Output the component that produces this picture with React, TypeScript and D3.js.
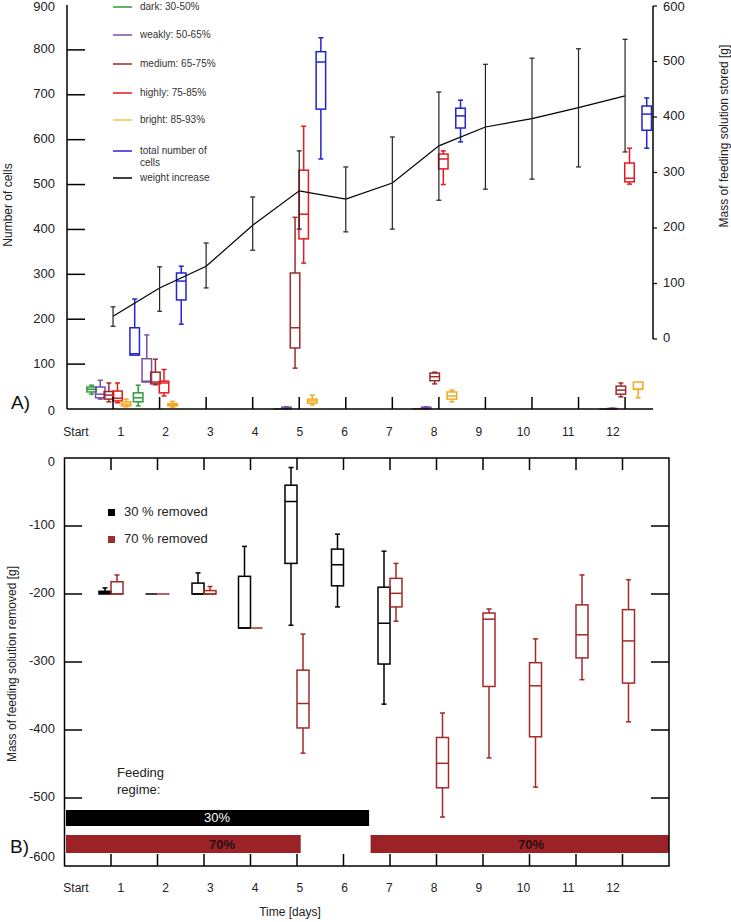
import React from "react";
import * as d3 from "d3";

// ---------- DATA ----------
// Panel A: cell counts per category, box stats [whiskerLow, q1, median, q3, whiskerHigh]
const cellDays = [1, 2, 5, 8, 12];
const darkCells = [[33, 38, 44, 49, 53], [7, 16, 25, 36, 53], [0, 0, 0, 0, 0], [0, 0, 0, 0, 0], [0, 0, 0, 0, 0]];
const weaklyCells = [[22, 25, 33, 49, 64], [60, 60, 62, 112, 165], [0, 1, 2, 4, 5], [0, 1, 2, 4, 5], [0, 0, 1, 1, 2]];
const mediumCells = [[16, 22, 31, 39, 58], [54, 56, 60, 82, 111], [91, 136, 181, 303, 427], [56, 63, 72, 80, 82], [27, 33, 42, 51, 58]];
const highlyCells = [[14, 18, 24, 40, 58], [29, 36, 58, 62, 88], [325, 379, 434, 532, 630], [500, 535, 557, 568, 575], [501, 506, 514, 548, 581]];
const brightCells = [[5, 7, 11, 16, 22], [4, 7, 10, 12, 17], [9, 13, 18, 22, 31], [16, 22, 29, 38, 42], [25, 44, 44, 60, 60]];
const totalCells = [[120, 120, 123, 181, 245], [189, 243, 285, 303, 318], [557, 668, 773, 796, 827], [595, 626, 653, 670, 688], [581, 621, 657, 675, 693]];

// Panel A: weight increase (mass of feeding solution stored, g)
const weightDays = [1, 2, 3, 4, 5, 6, 7, 8, 9, 10, 11, 12];
const weightMean = [41, 92, 131, 205, 267, 252, 281, 348, 382, 397, 417, 438];
const weightLow = [23, 50, 92, 160, 198, 193, 198, 250, 270, 288, 310, 337];
const weightHigh = [58, 130, 173, 256, 339, 310, 364, 445, 495, 506, 523, 540];

// Panel B: mass of feeding solution removed (g)
const removed30Days = [1, 2, 3, 4, 5, 6, 7];
const removed30 = [
  [-200, -200, -198, -196, -191],
  [-200, -200, -200, -200, -200],
  [-200, -200, -200, -184, -169],
  [-250, -250, -250, -174, -130],
  [-246, -155, -64, -40, -14],
  [-219, -188, -157, -134, -112],
  [-362, -303, -243, -190, -137],
];
const removed70Days = [1, 2, 3, 4, 5, 7, 8, 9, 10, 11, 12];
const removed70 = [
  [-200, -200, -200, -182, -172],
  [-200, -200, -200, -200, -200],
  [-200, -200, -200, -195, -189],
  [-250, -250, -250, -250, -250],
  [-434, -397, -361, -312, -259],
  [-240, -219, -199, -177, -155],
  [-528, -485, -449, -411, -375],
  [-441, -336, -237, -228, -222],
  [-484, -410, -335, -301, -266],
  [-326, -294, -260, -216, -172],
  [-388, -331, -269, -223, -179],
];

// Feeding regime periods (days)
const regime30 = [[0, 6.55]];
const regime70 = [[0, 5.08], [6.55, 13]];

// Axis ticks & labels
const dayTicks = [1, 2, 3, 4, 5, 6, 7, 8, 9, 10, 11, 12];
const dayLabels = ["Start", "1", "2", "3", "4", "5", "6", "7", "8", "9", "10", "11", "12"];
const cellTicks = [0, 100, 200, 300, 400, 500, 600, 700, 800, 900];
const storedTicks = [0, 100, 200, 300, 400, 500, 600];
const removedTicks = [0, -100, -200, -300, -400, -500, -600];

const legendLabels = ["dark: 30-50%", "weakly: 50-65%", "medium: 65-75%", "highly: 75-85%", "bright: 85-93%", "total number of|cells", "weight increase"];

// ---------- STYLE ----------
const FONT = "'Liberation Sans', Arial, sans-serif";
const catColors = ["#2e9a3a", "#7a4fa8", "#9e2a2b", "#e8191f", "#f4a81d", "#2323d1"];
const legendColors = ["#2e9a3a", "#7a4fa8", "#9e2a2b", "#e8191f", "#f6c342", "#2323d1", "#000"];
const catOffsets = [-0.46, -0.275, -0.09, 0.095, 0.28, 0.465];
const BROWN = "#a12a2a";
const BAR_BROWN = "#9b2226";

// ---------- SCALES ----------
const xTop = d3.scaleLinear().domain([0, 12.6]).range([66.5, 653]);
const yLeft = d3.scaleLinear().domain([0, 900]).range([409, 5]);
const yRight = d3.scaleLinear().domain([0, 600]).range([339, 6]);
const xLabel = d3.scalePoint<string>().domain(dayLabels).range([76, 613]);
const xBot = d3.scaleLinear().domain([0, 13]).range([64.5, 669]);
const yBot = d3.scaleLinear().domain([-600, 0]).range([866, 458]);

type Y = (v: number) => number;

function BoxPlot({ x0, x1, s, y, color, wx }: { x0: number; x1: number; s: number[]; y: Y; color: string; wx?: number }) {
  const cx = wx ?? (x0 + x1) / 2;
  const [lo, q1, med, q3, hi] = s;
  const tiny = Math.abs(y(q1) - y(q3)) < 3 && hi - lo > 0;
  return (
    <g stroke={color} strokeWidth={1.5} fill="none">
      {hi > q3 && <line x1={cx} x2={cx} y1={y(q3)} y2={y(hi)} />}
      {lo < q1 && <line x1={cx} x2={cx} y1={y(q1)} y2={y(lo)} />}
      {hi > q3 && <line x1={cx - 2.5} x2={cx + 2.5} y1={y(hi)} y2={y(hi)} />}
      {lo < q1 && <line x1={cx - 2.5} x2={cx + 2.5} y1={y(lo)} y2={y(lo)} />}
      <rect x={x0} width={x1 - x0} y={y(q3)} height={Math.max(0, y(q1) - y(q3))} fill={tiny ? color : "none"} />
      <line x1={x0} x2={x1} y1={y(med)} y2={y(med)} />
    </g>
  );
}

export default function App() {
  const cats = [darkCells, weaklyCells, mediumCells, highlyCells, brightCells, totalCells];
  const boxW = 9.5;
  const weightLine = d3.line<number>().x((d) => xTop(d)).y((_, i) => yRight(weightMean[i]));

  return (
    <svg width={731} height={922} style={{ position: "absolute", left: 0, top: 0, background: "#fff" }} fontFamily={FONT}>
      <rect width={731} height={922} fill="#fff" />
      {/* ================= PANEL A ================= */}
      {cats.map((arr, ci) =>
        arr.map((s, i) => {
          const cx = xTop(cellDays[i] + catOffsets[ci]);
          return <BoxPlot key={`c${ci}-${i}`} x0={cx - boxW / 2} x1={cx + boxW / 2} s={s} y={yLeft} color={catColors[ci]} />;
        })
      )}
      {/* axes A */}
      <line x1={67} x2={67} y1={5} y2={409} stroke="#000" strokeWidth={1.5} />
      <line x1={67} x2={653} y1={409} y2={409} stroke="#000" strokeWidth={1.5} />
      {cellTicks.map((t) => (
        <g key={`lt${t}`}>
          {t > 0 && t < 900 && <line x1={67} x2={85} y1={yLeft(t)} y2={yLeft(t)} stroke="#000" strokeWidth={1.5} />}
          <text x={55} y={Math.max(yLeft(t) + (t === 0 ? 3 : 0), 8)} textAnchor="end" dominantBaseline="middle" fontSize={13} fill="#222">
            {t}
          </text>
        </g>
      ))}
      {dayTicks.map((d) => (
        <line key={`xt${d}`} x1={xTop(d)} x2={xTop(d)} y1={409} y2={397} stroke="#000" strokeWidth={1.5} />
      ))}
      {dayLabels.map((l) => (
        <text key={`xl${l}`} x={xLabel(l)} y={433} textAnchor="middle" dominantBaseline="middle" fontSize={12} fill="#222">
          {l}
        </text>
      ))}
      {/* right axis */}
      <line x1={653} x2={653} y1={yRight(600)} y2={yRight(0)} stroke="#000" strokeWidth={1.5} />
      {storedTicks.map((t) => (
        <g key={`rt${t}`}>
          <line x1={653} x2={657} y1={yRight(t)} y2={yRight(t)} stroke="#000" strokeWidth={1.2} />
          <text x={663} y={Math.max(yRight(t), 8)} dominantBaseline="middle" fontSize={13} fill="#222">
            {t}
          </text>
        </g>
      ))}
      {/* weight line & error bars */}
      <path d={weightLine(weightDays) || ""} fill="none" stroke="#000" strokeWidth={1.2} />
      {weightDays.map((d, i) => (
        <g key={`eb${d}`} stroke="#222" strokeWidth={1.2}>
          <line x1={xTop(d)} x2={xTop(d)} y1={yRight(weightLow[i])} y2={yRight(weightHigh[i])} />
          <line x1={xTop(d) - 2.5} x2={xTop(d) + 2.5} y1={yRight(weightLow[i])} y2={yRight(weightLow[i])} />
          <line x1={xTop(d) - 2.5} x2={xTop(d) + 2.5} y1={yRight(weightHigh[i])} y2={yRight(weightHigh[i])} />
        </g>
      ))}
      {/* legend A */}
      {legendLabels.map((l, i) => {
        const ys = [7, 35, 64, 93, 120, 151, 178];
        const parts = l.split("|");
        return (
          <g key={`lg${i}`}>
            <line x1={113} x2={132} y1={ys[i]} y2={ys[i]} stroke={legendColors[i]} strokeWidth={1.5} />
            {parts.map((p, j) => (
              <text key={j} x={140} y={ys[i] + j * 12} dominantBaseline="middle" fontSize={10} fill="#333">
                {p}
              </text>
            ))}
          </g>
        );
      })}
      {/* titles A */}
      <text transform={`translate(9,205) rotate(-90)`} textAnchor="middle" dominantBaseline="middle" fontSize={12} fill="#222">
        Number of cells
      </text>
      <text transform={`translate(725,136) rotate(-90)`} textAnchor="middle" dominantBaseline="middle" fontSize={12} fill="#222">
        Mass of feeding solution stored [g]
      </text>
      <text x={11} y={404} dominantBaseline="middle" fontSize={19} fill="#111">
        A)
      </text>

      {/* ================= PANEL B ================= */}
      {regime30.map(([a, b], i) => (
        <rect key={`r30${i}`} x={xBot(a) + 1.5} y={810} width={xBot(b) - xBot(a) - 1.5} height={16} fill="#000" />
      ))}
      {regime70.map(([a, b], i) => (
        <rect key={`r70${i}`} x={xBot(a) + 1.5} y={835} width={xBot(b) - xBot(a) - 1.5} height={18} fill={BAR_BROWN} />
      ))}
      <text x={217} y={819} textAnchor="middle" dominantBaseline="middle" fontSize={13} fill="#fff">
        30%
      </text>
      {[222, 531].map((x, i) => (
        <text key={`t70${i}`} x={x} y={846} textAnchor="middle" dominantBaseline="middle" fontSize={13} fontWeight="bold" fill="#2a1010">
          70%
        </text>
      ))}
      <text x={117} y={774} dominantBaseline="middle" fontSize={13} fill="#222">
        Feeding
      </text>
      <text x={117} y={791} dominantBaseline="middle" fontSize={13} fill="#222">
        regime:
      </text>
      {removed30.map((s, i) => {
        const d = removed30Days[i];
        return <BoxPlot key={`b30${i}`} x0={xBot(d) - 12} x1={xBot(d)} s={s} y={yBot} color="#000" />;
      })}
      {removed70.map((s, i) => {
        const d = removed70Days[i];
        return <BoxPlot key={`b70${i}`} x0={xBot(d)} x1={xBot(d) + 12} s={s} y={yBot} color={BROWN} />;
      })}
      <rect x={64.5} y={458} width={669 - 64.5} height={866 - 458} fill="none" stroke="#000" strokeWidth={1.5} />
      {dayTicks.map((d) => (
        <g key={`bt${d}`} stroke="#000" strokeWidth={1.5}>
          <line x1={xBot(d)} x2={xBot(d)} y1={458} y2={470} />
          <line x1={xBot(d)} x2={xBot(d)} y1={866} y2={854} />
        </g>
      ))}
      {removedTicks.map((t) => (
        <g key={`by${t}`}>
          {t < 0 && t > -600 && (
            <>
              <line x1={64.5} x2={82} y1={yBot(t)} y2={yBot(t)} stroke="#000" strokeWidth={1.5} />
              <line x1={669} x2={651} y1={yBot(t)} y2={yBot(t)} stroke="#000" strokeWidth={1.5} />
            </>
          )}
          <text x={55} y={Math.min(Math.max(yBot(t), 463), 858)} textAnchor="end" dominantBaseline="middle" fontSize={13} fill="#222">
            {t}
          </text>
        </g>
      ))}
      {dayLabels.map((l) => (
        <text key={`bl${l}`} x={xLabel(l)} y={889} textAnchor="middle" dominantBaseline="middle" fontSize={12} fill="#222">
          {l}
        </text>
      ))}
      <text x={290} y={913} textAnchor="middle" dominantBaseline="middle" fontSize={12} fill="#222">
        Time [days]
      </text>
      <text transform={`translate(13,664) rotate(-90)`} textAnchor="middle" dominantBaseline="middle" fontSize={12} fill="#222">
        Mass of feeding solution removed [g]
      </text>
      <text x={10} y={848} dominantBaseline="middle" fontSize={19} fill="#111">
        B)
      </text>
      <rect x={108} y={509} width={7} height={7} fill="#000" />
      <text x={124} y={513} dominantBaseline="middle" fontSize={13} fill="#222">
        30 % removed
      </text>
      <rect x={108} y={536} width={7} height={7} fill={BROWN} />
      <text x={124} y={540} dominantBaseline="middle" fontSize={13} fill="#222">
        70 % removed
      </text>
    </svg>
  );
}
